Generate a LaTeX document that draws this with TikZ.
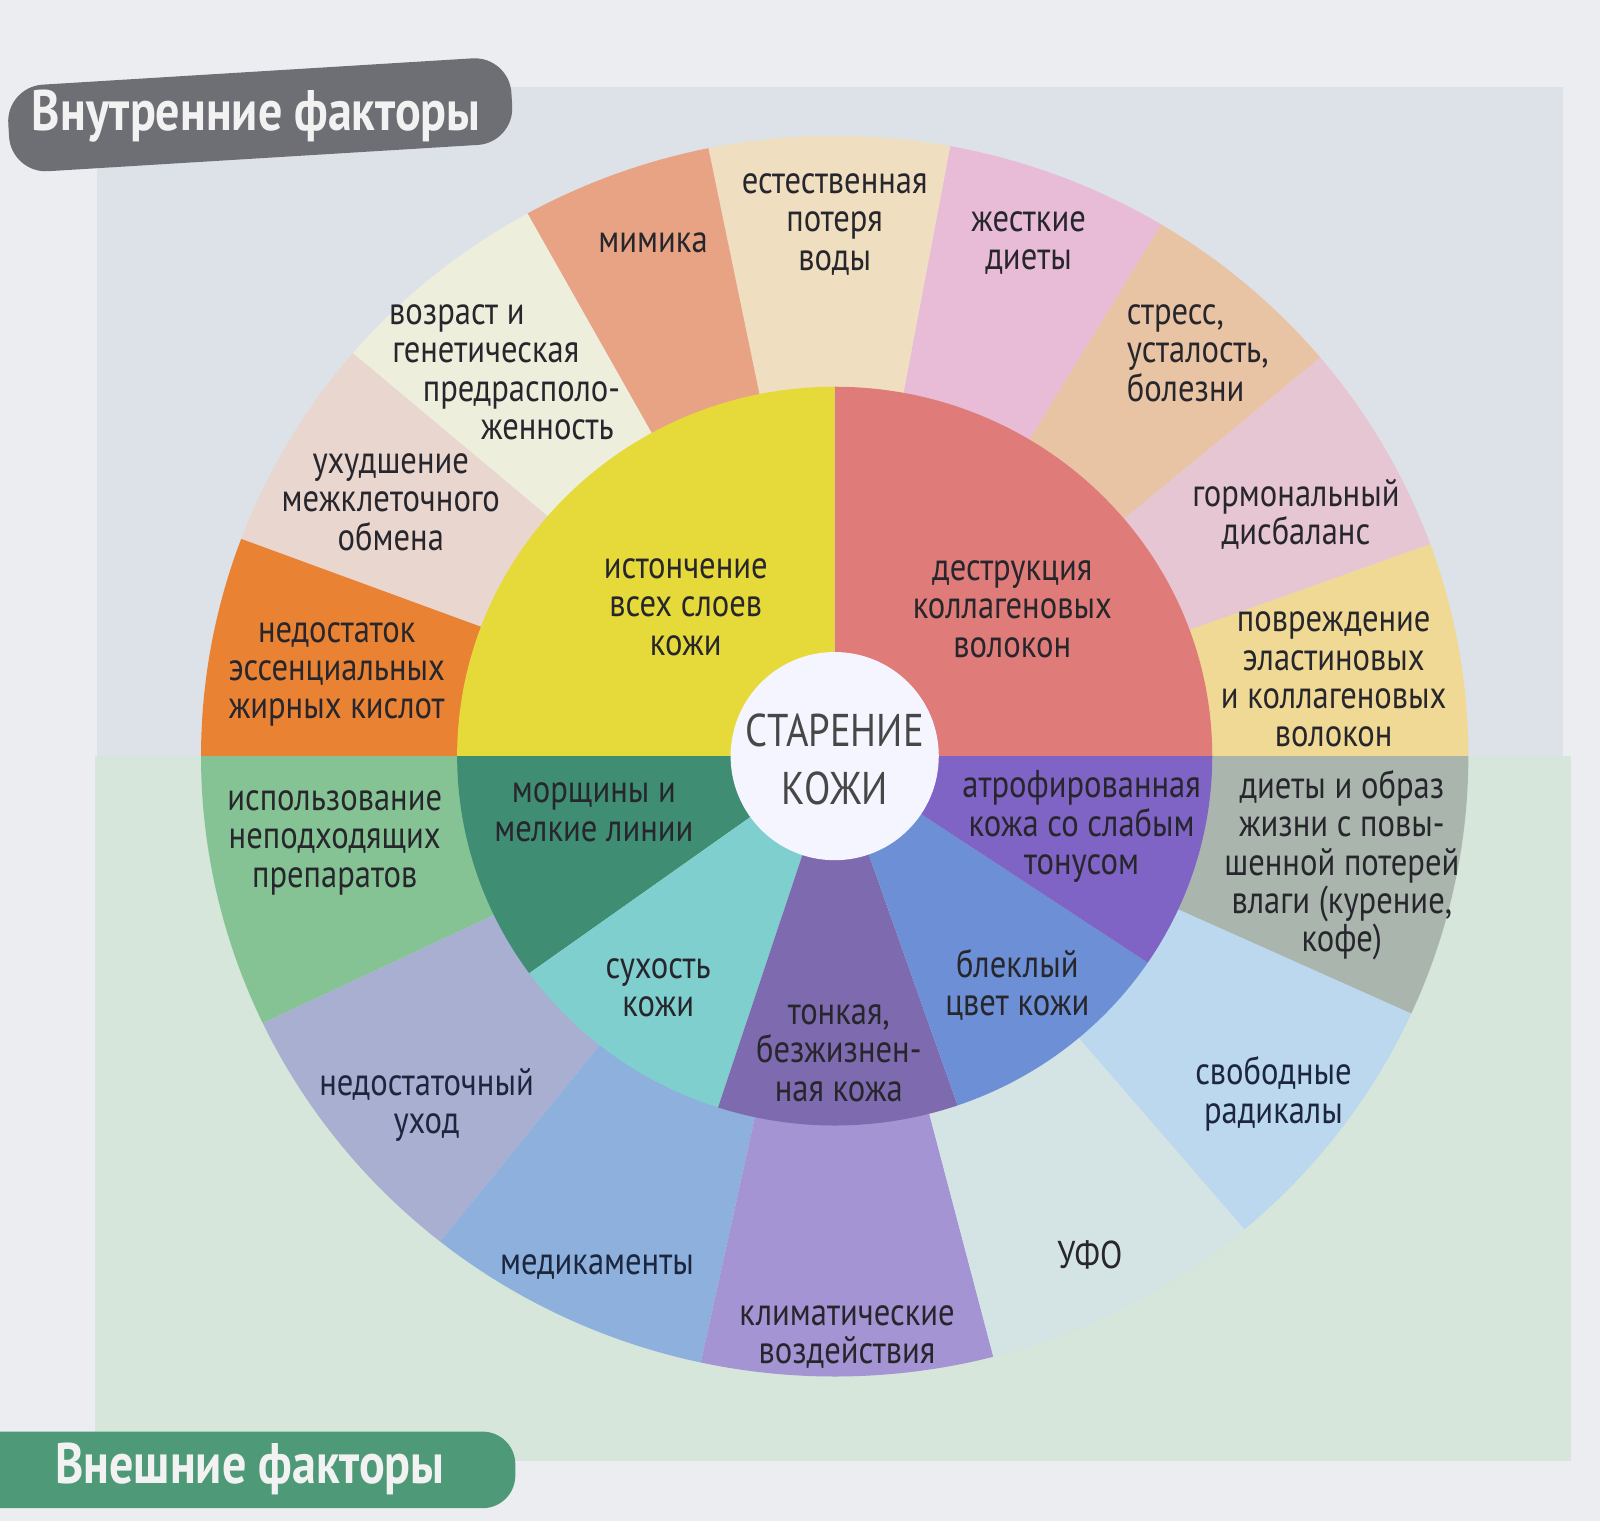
\documentclass[tikz,border=0pt]{standalone}
\usepackage{fontspec}
\setmainfont{PT Sans}[FakeStretch=0.84]
\usetikzlibrary{calc}

\definecolor{pagebg}{RGB}{236,237,240}
\definecolor{topbg}{RGB}{221,226,232}
\definecolor{botbg}{RGB}{214,230,219}
\definecolor{txt}{RGB}{38,38,44}
\definecolor{navy}{RGB}{28,38,62}
% inner ring
\definecolor{cYellow}{RGB}{230,218,58}
\definecolor{cRed}{RGB}{223,123,120}
\definecolor{cWrinkle}{RGB}{63,142,116}
\definecolor{cDry}{RGB}{127,207,207}
\definecolor{cThin}{RGB}{126,106,174}
\definecolor{cDull}{RGB}{109,143,214}
\definecolor{cAtrophy}{RGB}{127,99,197}
% outer ring, internal factors
\definecolor{cFatty}{RGB}{234,130,51}
\definecolor{cExchange}{RGB}{232,214,207}
\definecolor{cAge}{RGB}{238,238,221}
\definecolor{cMimic}{RGB}{232,163,132}
\definecolor{cWater}{RGB}{239,223,192}
\definecolor{cDiet}{RGB}{232,188,214}
\definecolor{cStress}{RGB}{232,196,164}
\definecolor{cHormone}{RGB}{230,198,210}
\definecolor{cElastin}{RGB}{239,217,148}
% outer ring, external factors
\definecolor{cLife}{RGB}{170,181,173}
\definecolor{cRadical}{RGB}{188,216,239}
\definecolor{cUV}{RGB}{212,227,227}
\definecolor{cClimate}{RGB}{165,148,212}
\definecolor{cDrug}{RGB}{141,176,220}
\definecolor{cCare}{RGB}{168,175,208}
\definecolor{cProduct}{RGB}{134,195,148}
% tabs
\definecolor{tabGray}{RGB}{109,111,117}
\definecolor{tabGreen}{RGB}{78,154,120}

% ring segment: colour, start angle, end angle, inner x/y radius, outer x/y radius
\newcommand{\ringpart}[7]{%
  \fill[#1] ($(C)+(-#2:#4 and #5)$)
    arc[start angle=-#2, end angle=-#3, x radius=#4, y radius=#5]
    -- ($(C)+(-#3:#6 and #7)$)
    arc[start angle=-#3, end angle=-#2, x radius=#6, y radius=#7] -- cycle;}
\newcommand{\outerpart}[3]{\ringpart{#1}{#2}{#3}{368}{360}{621}{608}}
\newcommand{\innerpart}[3]{\ringpart{#1}{#2}{#3}{80}{80}{370}{362}}

\begin{document}
\begin{tikzpicture}[x=0.5pt,y=-0.5pt,
  lbl/.style={font=\fontsize{19}{18.8}\selectfont, align=center, text=txt, inner sep=0pt},
  tabtext/.style={font=\bfseries\fontsize{28}{30}\selectfont, text=white!95!black, inner sep=0pt}]
\useasboundingbox (0,0) rectangle (1568,1491);
\fill[pagebg] (0,0) rectangle (1568,1491);

% two backgrounds: internal (top) and external (bottom) factors
\fill[topbg] (95,85) rectangle (1532,741);
\fill[botbg] (93,741) rectangle (1540,1432);

\coordinate (C) at (818,741);

% outer ring: internal factors
\outerpart{cElastin}{0}{20}
\outerpart{cHormone}{20}{40}
\outerpart{cStress}{40}{59}
\outerpart{cDiet}{59}{79.5}
\outerpart{cWater}{79.5}{101.5}
\outerpart{cMimic}{101.5}{119}
\outerpart{cAge}{119}{139.5}
\outerpart{cExchange}{139.5}{159.5}
\outerpart{cFatty}{159.5}{180}
% outer ring: external factors
\outerpart{cProduct}{180}{205.5}
\outerpart{cCare}{205.5}{231.5}
\outerpart{cDrug}{231.5}{257.8}
\outerpart{cClimate}{257.8}{284.5}
\outerpart{cUV}{284.5}{310.3}
\outerpart{cRadical}{310.3}{335.5}
\outerpart{cLife}{335.5}{360}

% inner ring: consequences
\innerpart{cRed}{0}{90}
\innerpart{cYellow}{90}{180}
\innerpart{cWrinkle}{180}{216}
\innerpart{cDry}{216}{252}
\innerpart{cThin}{252}{289}
\innerpart{cDull}{289}{326}
\innerpart{cAtrophy}{326}{360}

% centre
\fill[white!96!blue] (C) circle[radius=102];
\node[inner sep=0pt, align=center, text=black!72, font=\fontsize{22.5}{28.5}\selectfont] (center) at (818,744) {СТАРЕНИЕ\\КОЖИ};

% inner ring labels
\node[lbl] (thinning) at (672,595) {истончение\\всех слоев\\кожи};
\node[lbl] (collagen) at (992,597) {деструкция\\коллагеновых\\волокон};
\node[lbl] (wrinkles) at (582,796) {морщины и\\мелкие линии};
\node[lbl] (dryness) at (645,968) {сухость\\кожи};
\node[lbl] (lifeless) at (822,1032) {тонкая,\\безжизнен-\\ная кожа};
\node[lbl] (dull) at (997,965) {блеклый\\цвет кожи};
\node[lbl] (atrophy) at (1060,810) {атрофированная\\кожа со слабым\\тонусом};

% outer ring labels: internal factors
\node[lbl] (fatty) at (330,661) {недостаток\\эссенциальных\\жирных кислот};
\node[lbl] (exchange) at (383,492) {ухудшение\\межклеточного\\обмена};
\node[lbl, anchor=west, align=left] (age) at (381,365)
  {возраст и\\\hspace*{1.5pt}генетическая\\\hspace*{16.5pt}предрасполо-\\\hspace*{45pt}женность};
\node[lbl] (mimic) at (640,238) {мимика};
\node[lbl] (water) at (818,220) {естественная\\потеря\\воды};
\node[lbl] (diets) at (1008,238) {жесткие\\диеты};
\node[lbl, anchor=west, align=left] (stress) at (1104,346) {стресс,\\усталость,\\болезни};
\node[lbl] (hormone) at (1270,504) {гормональный\\дисбаланс};
\node[lbl] (elastin) at (1307,666) {повреждение\\эластиновых\\и коллагеновых\\волокон};

% outer ring labels: external factors
\node[lbl] (lifestyle) at (1315,848) {диеты и образ\\жизни с повы-\\шенной потерей\\влаги (курение,\\кофе)};
\node[lbl, text=navy] (radicals) at (1248,1072) {свободные\\радикалы};
\node[lbl] (uv) at (1068,1230) {УФО};
\node[lbl] (climate) at (830,1310) {климатические\\воздействия};
\node[lbl, text=navy] (drugs) at (585,1242) {медикаменты};
\node[lbl, text=navy] (care) at (418,1083) {недостаточный\\уход};
\node[lbl] (products) at (328,826) {использование\\неподходящих\\препаратов};

% section tabs
\begin{scope}[rotate around={3.5:(255,112)}]
  \fill[tabGray, rounded corners=18pt] (8,70) rectangle (502,155);
  \node[tabtext] (internal) at (251,114) {Внутренние факторы};
\end{scope}
\fill[tabGreen, rounded corners=16pt] (-40,1403) rectangle (505,1478);
\node[tabtext] (external) at (245,1440) {Внешние факторы};
\end{tikzpicture}
\end{document}
